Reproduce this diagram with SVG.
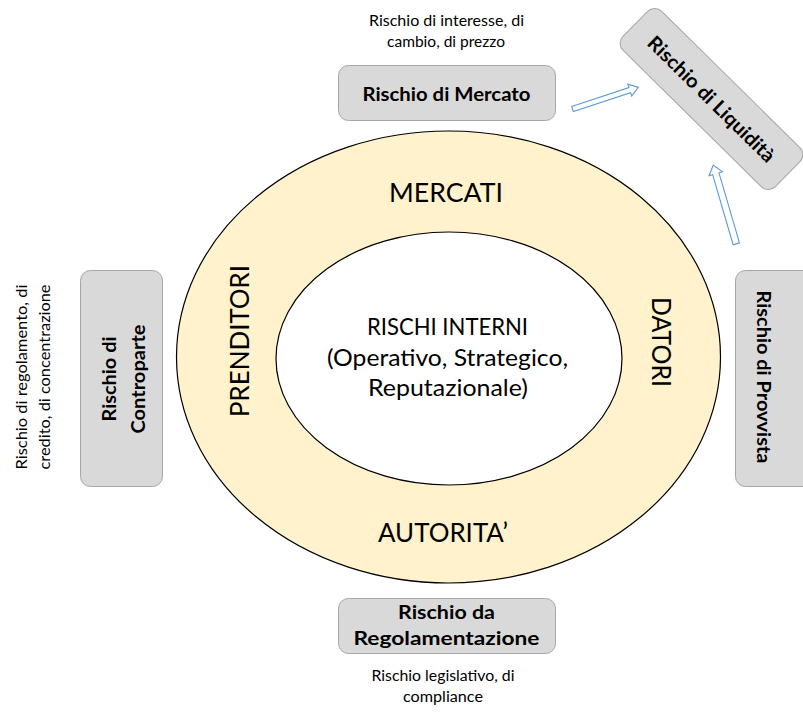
<svg xmlns="http://www.w3.org/2000/svg" width="803" height="712" viewBox="0 0 803 712">
<style>
text{font-family:Lato,"Liberation Sans",sans-serif;fill:#000;text-anchor:middle}
.ring{font-size:26.5px}
.inner{font-size:23.5px}
.box{fill:#d9d9d9;stroke:#a6a6a6;stroke-width:1}
.bt{font-size:19.5px;font-weight:bold}
.cap{font-size:15.5px}
.arrow{fill:#fff;stroke:#5b9bd5;stroke-width:1.1;stroke-linejoin:miter}
</style>
<rect width="803" height="712" fill="#fff"/>
<g id="ring">
<ellipse cx="448.5" cy="357" rx="272" ry="226" fill="#fff2cc" stroke="#000" stroke-width="1.2"/>
<text class="ring" x="446" y="202" textLength="114" lengthAdjust="spacingAndGlyphs">MERCATI</text>
<text class="ring" x="443" y="542" textLength="130" lengthAdjust="spacingAndGlyphs">AUTORITA’</text>
<text class="ring" transform="translate(249,341) rotate(-90)" x="0" y="0" textLength="152" lengthAdjust="spacingAndGlyphs">PRENDITORI</text>
<text class="ring" transform="translate(652,342) rotate(90)" x="0" y="0" textLength="90" lengthAdjust="spacingAndGlyphs">DATORI</text>
</g>
<g id="interni">
<ellipse cx="449" cy="358.5" rx="173" ry="126.5" fill="#fff" stroke="#000" stroke-width="1.2"/>
<text class="inner" x="447.5" y="335" textLength="161" lengthAdjust="spacingAndGlyphs">RISCHI INTERNI</text>
<text class="inner" x="447.5" y="365.5" textLength="241" lengthAdjust="spacingAndGlyphs">(Operativo, Strategico,</text>
<text class="inner" x="448" y="396" textLength="160" lengthAdjust="spacingAndGlyphs">Reputazionale)</text>
</g>
<g id="mercato">
<rect class="box" x="338.5" y="65.5" width="217" height="55" rx="10"/>
<text class="bt" x="446.5" y="101" textLength="168" lengthAdjust="spacingAndGlyphs">Rischio di Mercato</text>
<text class="cap" x="446.5" y="26" textLength="155" lengthAdjust="spacingAndGlyphs">Rischio di interesse, di</text>
<text class="cap" x="446" y="47" textLength="118" lengthAdjust="spacingAndGlyphs">cambio, di prezzo</text>
</g>
<g id="regolamentazione">
<rect class="box" x="338.5" y="598.5" width="217" height="55" rx="10"/>
<text class="bt" x="446.5" y="619" textLength="97" lengthAdjust="spacingAndGlyphs">Rischio da</text>
<text class="bt" x="446.5" y="645" textLength="186" lengthAdjust="spacingAndGlyphs">Regolamentazione</text>
<text class="cap" x="443" y="681" textLength="143" lengthAdjust="spacingAndGlyphs">Rischio legislativo, di</text>
<text class="cap" x="443" y="702" textLength="80" lengthAdjust="spacingAndGlyphs">compliance</text>
</g>
<g id="controparte">
<rect class="box" x="80.5" y="270.5" width="82" height="216" rx="10"/>
<text class="bt" transform="translate(116,379) rotate(-90)" textLength="85" lengthAdjust="spacingAndGlyphs">Rischio di</text>
<text class="bt" transform="translate(145,379) rotate(-90)" textLength="109" lengthAdjust="spacingAndGlyphs">Controparte</text>
<text class="cap" transform="translate(27,377) rotate(-90)" textLength="185" lengthAdjust="spacingAndGlyphs">Rischio di regolamento, di</text>
<text class="cap" transform="translate(50,377) rotate(-90)" textLength="185" lengthAdjust="spacingAndGlyphs">credito, di concentrazione</text>
</g>
<g id="provvista">
<rect class="box" x="735.5" y="270.5" width="82" height="216" rx="10"/>
<text class="bt" transform="translate(757,377) rotate(90)" textLength="173" lengthAdjust="spacingAndGlyphs">Rischio di Provvista</text>
</g>
<g id="liquidita">
<g transform="translate(711.5,99) rotate(44.6)">
<rect class="box" x="-107" y="-27.5" width="214" height="55" rx="10"/>
<text class="bt" x="0" y="7" textLength="170" lengthAdjust="spacingAndGlyphs">Rischio di Liquidità</text>
</g>
</g>
<g id="connectors">
<path class="arrow" transform="translate(572.5,109) rotate(-18.2)" d="M0,-2.7 L60.3,-2.7 L60.3,-6.3 L69.3,0 L60.3,6.3 L60.3,2.7 L0,2.7 Z"/>
<path class="arrow" transform="translate(736.3,243.8) rotate(-106.3)" d="M0,-3.3 L73,-3.3 L73,-7 L82.1,0 L73,7 L73,3.3 L0,3.3 Z"/>
</g>
</svg>
